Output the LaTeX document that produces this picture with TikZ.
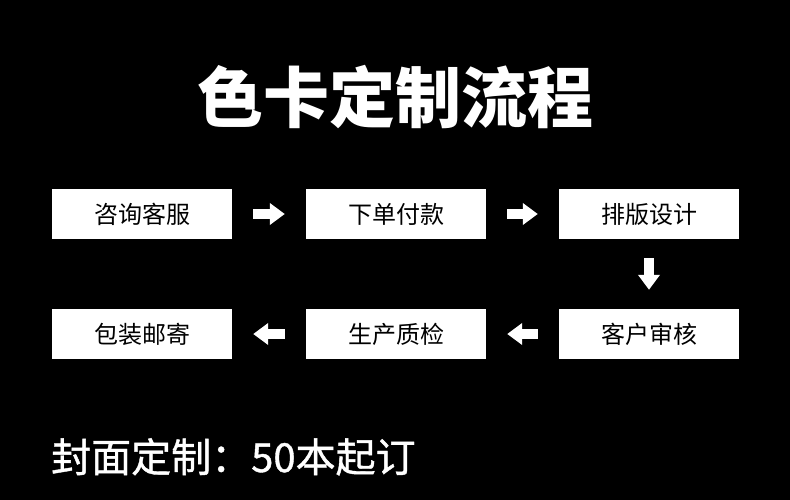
\documentclass[tikz,border=0pt]{standalone}
\usepackage{fontspec}
\setmainfont{Noto Sans CJK SC}
\newfontfamily\cjkmed[FakeBold=1]{Noto Sans CJK SC}
\usetikzlibrary{arrows.meta}

\tikzset{
    casella/.style={fill=white, minimum width=180pt, minimum height=50pt, inner sep=0pt,
        font=\fontsize{24pt}{26pt}\selectfont, text=black},
    freccia/.style={white, line width=10pt, -{Triangle[length=15pt, width=21pt]},
        shorten <=21pt, shorten >=21pt}
}

\begin{document}
\begin{tikzpicture}[x=1pt, y=-1pt]
    %sfondo
        \fill[black] (0,0) rectangle (790,500);
        \useasboundingbox (0,0) rectangle (790,500);
        %titolo
        \node[anchor=base, inner sep=0pt, text=white, font=\fontsize{66pt}{70pt}\selectfont\bfseries] (titolo) at (395,123) {色卡定制流程};
        %caselle prima riga
        \node[casella] (consulenza) at (142,214) {咨询客服};
        \node[casella] (ordine) at (396,214) {下单付款};
        \node[casella] (grafica) at (649,214) {排版设计};
        %caselle seconda riga
        \node[casella] (verifica) at (649,334) {客户审核};
        \node[casella] (produzione) at (396,334) {生产质检};
        \node[casella] (spedizione) at (142,334) {包装邮寄};
        %frecce
        \draw[freccia] (consulenza.east) -- (ordine.west);
        \draw[freccia] (ordine.east) -- (grafica.west);
        \draw[freccia, shorten <=19pt, shorten >=19pt] (grafica.south) -- (verifica.north);
        \draw[freccia] (verifica.west) -- (produzione.east);
        \draw[freccia] (produzione.west) -- (spedizione.east);
        %nota
        \node[anchor=base west, inner sep=0pt, text=white, font=\fontsize{40pt}{42pt}\cjkmed] (nota) at (51,472) {封面定制：50本起订};
\end{tikzpicture}
\end{document}
